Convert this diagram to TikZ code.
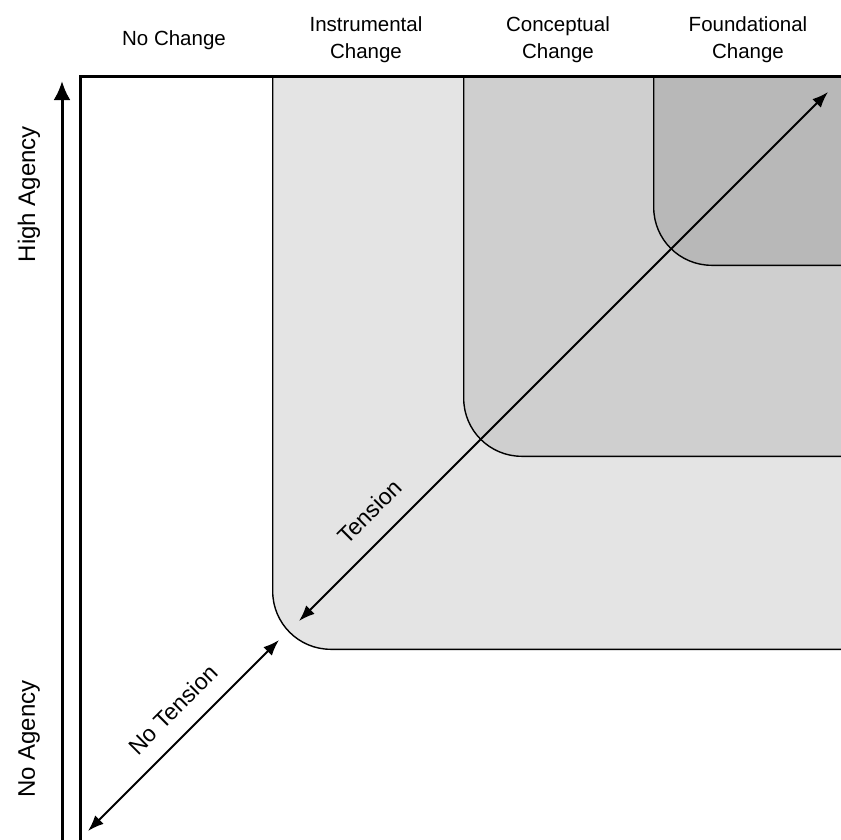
\documentclass[tikz,border=0pt]{standalone}
\usepackage{fontspec}
\setmainfont{Liberation Sans}
\usetikzlibrary{arrows.meta,positioning}
\definecolor{levelone}{HTML}{E4E4E4}
\definecolor{leveltwo}{HTML}{CFCFCF}
\definecolor{levelthree}{HTML}{B8B8B8}
\tikzset{>=latex}
\tikzstyle{levelbox} = [draw,
                        line width=1.4pt,
                        rounded corners=58pt,
                        anchor=south west,
                        minimum width=700pt,
                        minimum height=700pt,
                        inner sep=0pt]
\tikzstyle{frameline} = [line width=3pt]
\tikzstyle{agencyarrow} = [-{Latex[length=19pt,width=17pt]},
                           line width=3pt]
\tikzstyle{tensionarrow} = [{Latex[length=16pt,width=12pt]}-{Latex[length=16pt,width=12pt]},
                            line width=2pt]
\tikzstyle{header} = [align=center,
                      font=\fontsize{20.5}{27}\selectfont]
\tikzstyle{sidelabel} = [rotate=90,
                         font=\fontsize{24}{28}\selectfont]
\tikzstyle{alonglabel} = [sloped,
                          font=\fontsize{23}{27}\selectfont]
\begin{document}
\begin{tikzpicture}[x=1pt,y=-1pt]

  \useasboundingbox (0,0) rectangle (841,839);

  % Levels
  \begin{scope}
    \clip (80,76) rectangle (841,839);
    \node[levelbox, fill=levelone] (instrumental) at (272,650) {};
    \node[levelbox, fill=leveltwo] (conceptual) at (463,457) {};
    \node[levelbox, fill=levelthree] (foundational) at (653,266) {};
  \end{scope}

  % Frame
  \draw[frameline] (80,845) |- (845,76);

  % Headers
  \node[header] (nochange) at (174,40) {No Change};
  \node[header] (instrhead) at (366,40) {Instrumental\\Change};
  \node[header] (concepthead) at (558,40) {Conceptual\\Change};
  \node[header] (foundhead) at (748,40) {Foundational\\Change};

  % Agency
  \coordinate (agencylow) at (62,845);
  \coordinate (agencyhigh) at (62,81);
  \draw[agencyarrow] (agencylow) -- (agencyhigh);
  \node[sidelabel] (highagency) at (29,194) {High Agency};
  \node[sidelabel] (noagency) at (29,739) {No Agency};

  % Tension
  \coordinate (notensionlow) at (88,831);
  \coordinate (notensionhigh) at (279,640);
  \coordinate (tensionlow) at (299,621);
  \coordinate (tensionhigh) at (828,92);
  \draw[tensionarrow] (notensionlow) -- (notensionhigh)
    node[alonglabel, above=13pt, pos=0.54] (notension) {No Tension};
  \draw[tensionarrow] (tensionlow) -- (tensionhigh)
    node[alonglabel, above=15pt, pos=0.17] (tension) {Tension};

\end{tikzpicture}
\end{document}
